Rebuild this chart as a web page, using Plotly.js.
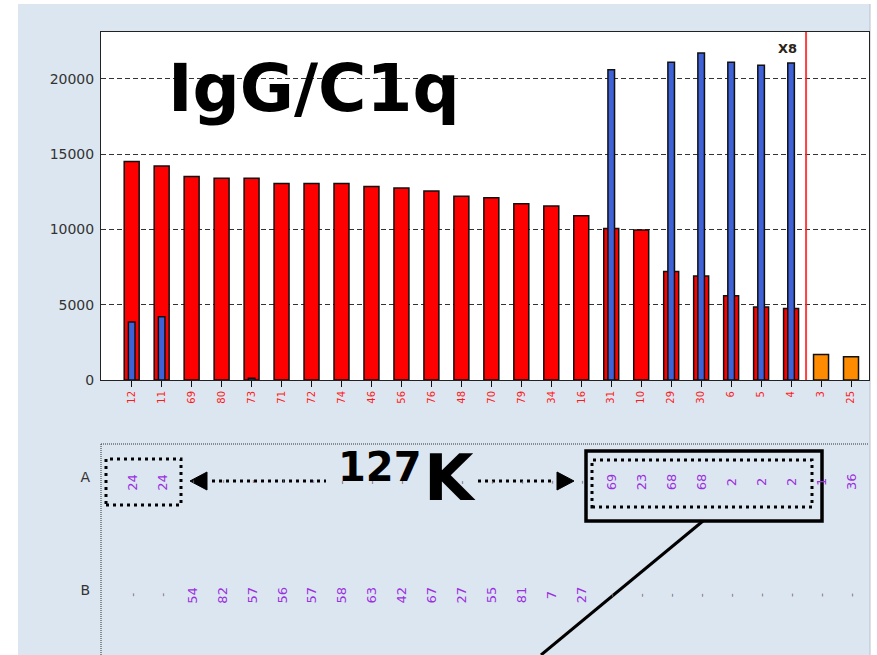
<!DOCTYPE html>
<html><head><meta charset="utf-8">
<script src="https://cdn.plot.ly/plotly-3.0.1.min.js"></script>
<style>html,body{margin:0;padding:0;background:#fff;}#chart{width:877px;height:655px;}</style>
</head><body><div id="chart"></div>
<script>
// ---- data ----
const categories = ['12','11','69','80','73','71','72','74','46','56','76','48','70','79','34','16','31','10','29','30','6','5','4','3','25'];
const redValues = [14500,14200,13500,13400,13400,13050,13050,13050,12850,12750,12550,12200,12100,11700,11550,10900,10050,9950,7200,6900,5600,4850,4750,null,null];
const blueValues = [3850,4200,null,null,120,null,null,null,null,null,null,null,null,null,null,null,20600,null,21100,21700,21100,20900,21050,null,null];
const orangeValues = [null,null,null,null,null,null,null,null,null,null,null,null,null,null,null,null,null,null,null,null,null,null,null,1700,1550];
const yTickValues = [0,5000,10000,15000,20000];
const rowLabels = ['A','B'];
const rowAValues = ['24','24','-','-','-','-','-','-','-','-','-','-','-','-','-','-','69','23','68','68','2','2','2','1','36'];
const rowBValues = ['-','-','54','82','57','56','57','58','63','42','67','27','55','81','7','27','-','-','-','-','-','-','-','-','-'];
const chartTitle = 'IgG/C1q';
const markerLabel = 'X8';
const markerCategory = '4';
const nextCategory = '3';
const calloutNumber = '127';
const calloutUnit = 'K';

// ---- geometry helpers (pixel -> paper) ----
const W = 877, H = 655, ML = 101, MR = 8, MT = 32, MB = 0;
const PW = W - ML - MR, PH = H - MT - MB;
const px = x => (x - ML) / PW;
const py = y => (H - MB - y) / PH;

const FONT = 'DejaVu Sans, Verdana, sans-serif';
const markerIdx = categories.indexOf(markerCategory);
const sepX = (markerIdx + categories.indexOf(nextCategory)) / 2;
const xRange = [-1.024, 24.6];

const traces = [
  {type:'bar', x:categories, y:redValues, width:0.5, marker:{color:'#ff0000', line:{color:'#111', width:1.5}}, hoverinfo:'skip', xaxis:'x', yaxis:'y'},
  {type:'bar', x:categories, y:orangeValues, width:0.5, marker:{color:'#ff8c00', line:{color:'#111', width:1.5}}, hoverinfo:'skip', xaxis:'x', yaxis:'y'},
  {type:'bar', x:categories, y:blueValues, width:0.22, marker:{color:'#3f62d8', line:{color:'#111', width:1.5}}, hoverinfo:'skip', xaxis:'x', yaxis:'y'}
];

const annotations = [];
// table text
[rowAValues, rowBValues].forEach((row, r) => {
  row.forEach((v, i) => {
    if (v === null) return;
    const isDash = v === '-';
    annotations.push({xref:'x2', yref:'y2', x:i, y: rowLabels.length - 1 - r, text:v, textangle:-90,
      showarrow:false, yshift:-5,
      font:{family:FONT, size: isDash ? 11 : 13, color: isDash ? '#7a6a78' : '#9b30e0'}});
  });
});
// title & callouts
annotations.push({xref:'paper', yref:'paper', x:px(166), y:py(88), xanchor:'left', yanchor:'middle', showarrow:false,
  text:chartTitle, font:{family:FONT, size:66, weight:'bold', color:'#000'}});
annotations.push({xref:'paper', yref:'paper', x:px(336), y:py(467), xanchor:'left', yanchor:'middle', showarrow:false,
  text:calloutNumber, font:{family:FONT, size:40, weight:'bold', color:'#000'}});
annotations.push({xref:'paper', yref:'paper', x:px(422), y:py(478), xanchor:'left', yanchor:'middle', showarrow:false,
  text:calloutUnit, font:{family:FONT, size:64, weight:'bold', color:'#000'}});
annotations.push({xref:'x2', yref:'y domain', x:markerIdx, xshift:-4, y:0.954, yanchor:'middle', showarrow:false,
  text:markerLabel, font:{family:FONT, size:13, weight:'bold', color:'#2a2218'}});

const dots = '3px,4px';
const shapes = [
  // panel background
  {type:'rect', xref:'paper', yref:'paper', x0:px(18), x1:px(870), y0:py(655), y1:py(4), layer:'below', fillcolor:'#dce6f0', line:{width:0}},
  {type:'line', xref:'paper', yref:'paper', x0:px(870), x1:px(870), y0:py(655), y1:py(4), layer:'below', line:{color:'#b8c2cc', width:1}},
  // white plot area
  {type:'rect', xref:'paper', yref:'paper', x0:0, x1:1, y0:py(380), y1:1, layer:'below', fillcolor:'#ffffff', line:{width:0}},
  // separator
  {type:'line', xref:'x', yref:'y domain', x0:sepX, x1:sepX, y0:0, y1:1, line:{color:'rgba(255,30,30,0.85)', width:2}},
  // lower panel dotted border
  {type:'line', xref:'x2 domain', yref:'y2 domain', x0:0, x1:0, y0:0, y1:1, line:{color:'#333', width:1, dash:'1px,1px'}},
  {type:'line', xref:'x2 domain', yref:'y2 domain', x0:0, x1:1, y0:1, y1:1, line:{color:'#333', width:1, dash:'1px,1px'}},
  // callout overlays
  {type:'rect', xref:'paper', yref:'paper', x0:px(106), x1:px(181), y0:py(505), y1:py(459), line:{color:'#000', width:3, dash:dots}},
  {type:'line', xref:'paper', yref:'paper', x0:px(212), x1:px(326), y0:py(481), y1:py(481), line:{color:'#000', width:3, dash:dots}},
  {type:'path', xref:'paper', yref:'paper', path:`M ${px(190)},${py(481)} L ${px(207)},${py(472)} L ${px(207)},${py(490)} Z`, fillcolor:'#000', line:{color:'#000', width:1}},
  {type:'line', xref:'paper', yref:'paper', x0:px(478), x1:px(553), y0:py(481), y1:py(481), line:{color:'#000', width:3, dash:dots}},
  {type:'path', xref:'paper', yref:'paper', path:`M ${px(574)},${py(481)} L ${px(557)},${py(472)} L ${px(557)},${py(490)} Z`, fillcolor:'#000', line:{color:'#000', width:1}},
  {type:'rect', xref:'paper', yref:'paper', x0:px(586), x1:px(822), y0:py(521), y1:py(451), line:{color:'#000', width:3.5}},
  {type:'rect', xref:'paper', yref:'paper', x0:px(592), x1:px(812), y0:py(507), y1:py(460), line:{color:'#000', width:3, dash:dots}},
  {type:'line', xref:'paper', yref:'paper', x0:px(703), y0:py(521), x1:px(541), y1:py(655), line:{color:'#000', width:3}}
];

const layout = {
  width:W, height:H, margin:{l:ML, r:MR, t:MT, b:MB, pad:0},
  paper_bgcolor:'#ffffff', plot_bgcolor:'rgba(0,0,0,0)',
  showlegend:false, barmode:'overlay', font:{family:FONT},
  xaxis:{type:'category', range:xRange, domain:[0,1], anchor:'y', ticks:'outside', ticklen:6, tickcolor:'#111',
    tickangle:-90, tickfont:{family:FONT, size:10, color:'#ff1a1a'}, showline:true, mirror:true, linecolor:'#222', linewidth:1,
    showgrid:false, zeroline:false, fixedrange:true},
  yaxis:{domain:[py(380),1], anchor:'x', range:[0,23100], tickvals:yTickValues, tickformat:'d', ticks:'',
    tickfont:{family:FONT, size:14, color:'#333'}, showline:true, mirror:true, linecolor:'#222', linewidth:1,
    showgrid:true, gridcolor:'#333', gridwidth:1, griddash:'5px,3px', zeroline:false, ticklabelstandoff:3},
  xaxis2:{type:'linear', range:xRange, domain:[0,1], anchor:'y2', showticklabels:false, ticks:'', showgrid:false, zeroline:false, showline:false},
  yaxis2:{type:'linear', domain:[0,py(444)], anchor:'x2', range:[-0.575,1.292], tickvals:[1,0], ticktext:rowLabels, ticks:'',
    tickfont:{family:FONT, size:14, color:'#333'}, showgrid:false, zeroline:false, showline:false, ticklabelstandoff:10},
  shapes:shapes, annotations:annotations
};

Plotly.newPlot('chart', traces, layout, {staticPlot:true, displayModeBar:false});
</script></body></html>
